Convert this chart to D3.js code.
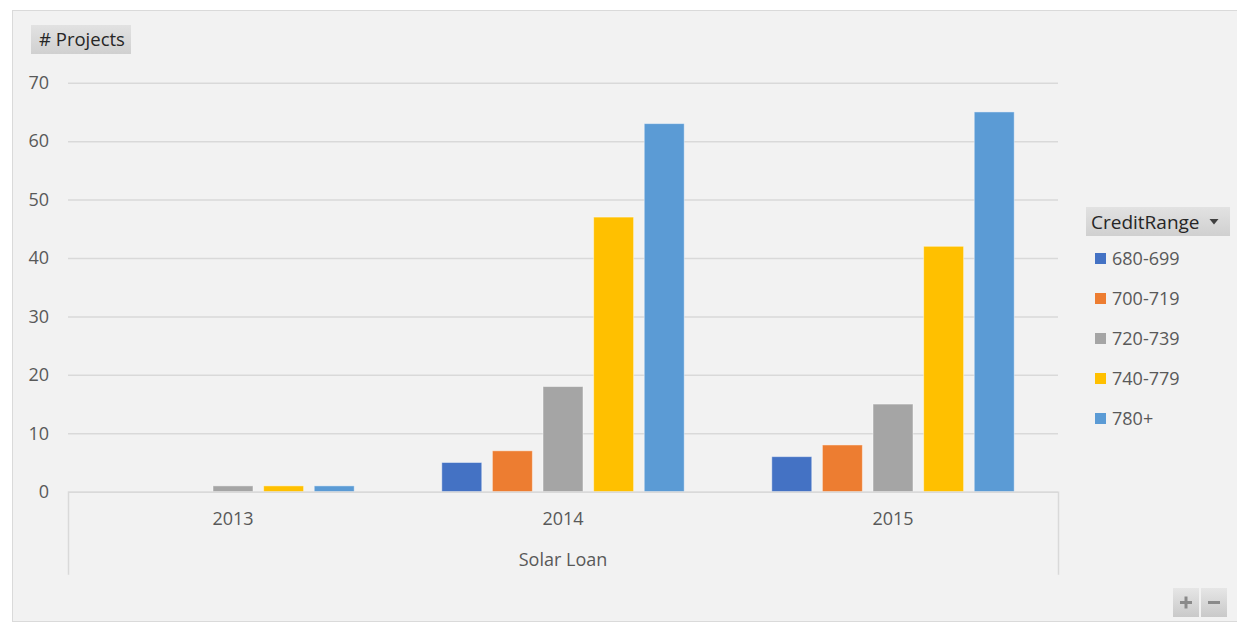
<!DOCTYPE html>
<html>
<head>
<meta charset="utf-8">
<script src="https://cdn.jsdelivr.net/npm/d3@7"></script>
<style>
  html, body { margin: 0; padding: 0; background: #ffffff; }
  svg { display: block; font-family: "Open Sans", "Noto Sans", sans-serif; }
</style>
</head>
<body>
<svg id="chart" width="1237" height="625"></svg>
<script>
// Years on the category axis
const categories = ["2013", "2014", "2015"];
// Credit score bands (series)
const creditRanges = ["680-699", "700-719", "720-739", "740-779", "780+"];
// Number of projects per year for each credit band
const range680_699 = [0, 5, 6];
const range700_719 = [0, 7, 8];
const range720_739 = [1, 18, 15];
const range740_779 = [1, 47, 42];
const range780plus = [1, 63, 65];
const yTicks = [0, 10, 20, 30, 40, 50, 60, 70];
const groupLabel = "Solar Loan";
const valueFieldLabel = "# Projects";
const legendTitle = "CreditRange";

const seriesValues = [range680_699, range700_719, range720_739, range740_779, range780plus];
const colors = ["#4472c4", "#ed7d31", "#a5a5a5", "#ffc000", "#5b9bd5"];

const svg = d3.select("#chart");
const W = 1237, H = 625;

// Gradients for the field buttons
const defs = svg.append("defs");
const g1 = defs.append("linearGradient").attr("id", "btn").attr("x1", 0).attr("y1", 0).attr("x2", 0).attr("y2", 1);
g1.append("stop").attr("offset", "0%").attr("stop-color", "#e2e2e2");
g1.append("stop").attr("offset", "100%").attr("stop-color", "#d0d0d0");
const g2 = defs.append("linearGradient").attr("id", "zoomBtn").attr("x1", 0).attr("y1", 0).attr("x2", 0).attr("y2", 1);
g2.append("stop").attr("offset", "0%").attr("stop-color", "#e6e6e6");
g2.append("stop").attr("offset", "100%").attr("stop-color", "#c9c9c9");

// Chart panel
svg.append("rect")
  .attr("x", 12.5).attr("y", 10.5).attr("width", W - 12).attr("height", H - 14)
  .attr("fill", "#f2f2f2").attr("stroke", "#dadada").attr("stroke-width", 1);

// Scales
const plotLeft = 68, plotRight = 1058, plotTop = 82.7, plotBottom = 491.7;
const x0 = d3.scaleBand().domain(categories).range([plotLeft, plotRight]).paddingInner(0).paddingOuter(0);
const x1 = d3.scaleBand().domain(creditRanges).range([0, x0.bandwidth()]).paddingInner(0.21).paddingOuter(0.865);
const y = d3.scaleLinear().domain([0, 70]).range([plotBottom, plotTop]);

// Value axis with gridlines
const yAxis = svg.append("g")
  .attr("transform", `translate(${plotLeft},0)`)
  .call(d3.axisLeft(y).tickValues(yTicks).tickSize(-(plotRight - plotLeft)).tickPadding(19));
yAxis.select(".domain").remove();
yAxis.selectAll(".tick line").attr("stroke", "#d9d9d9").attr("stroke-width", 1.5);
yAxis.selectAll(".tick text").attr("fill", "#595959").attr("font-size", 18).attr("font-family", "Open Sans, sans-serif");

// Bars
const barData = [];
categories.forEach((cat, ci) => {
  creditRanges.forEach((cr, si) => {
    barData.push({ cat, cr, si, value: seriesValues[si][ci] });
  });
});
svg.append("g").selectAll("rect")
  .data(barData.filter(d => d.value > 0))
  .join("rect")
  .attr("x", d => x0(d.cat) + x1(d.cr))
  .attr("y", d => y(d.value))
  .attr("width", x1.bandwidth())
  .attr("height", d => y(0) - y(d.value))
  .attr("fill", d => colors[d.si])
  .attr("stroke", "rgba(255,255,255,0.45)")
  .attr("stroke-width", 1);

// Category axis with outer ticks reaching down to enclose the group label
const xAxis = svg.append("g")
  .attr("transform", `translate(0,${plotBottom})`)
  .call(d3.axisBottom(x0).tickSizeInner(0).tickSizeOuter(83).tickPadding(21));
xAxis.select(".domain").attr("stroke", "#d9d9d9").attr("stroke-width", 1.5);
xAxis.selectAll(".tick text").attr("fill", "#595959").attr("font-size", 18).attr("font-family", "Open Sans, sans-serif");

svg.append("text")
  .attr("x", (plotLeft + plotRight) / 2).attr("y", 566)
  .attr("text-anchor", "middle").attr("fill", "#595959").attr("font-size", 18)
  .text(groupLabel);

// "# Projects" field button
svg.append("rect").attr("x", 31).attr("y", 25).attr("width", 100).attr("height", 29).attr("fill", "url(#btn)");
svg.append("text").attr("x", 39).attr("y", 39.5).attr("dy", "0.35em")
  .attr("fill", "#262626").attr("font-size", 18.5).text(valueFieldLabel);

// Legend with field button
svg.append("rect").attr("x", 1086).attr("y", 207).attr("width", 144).attr("height", 29).attr("fill", "url(#btn)");
svg.append("text").attr("x", 1091).attr("y", 222).attr("dy", "0.35em")
  .attr("fill", "#262626").attr("font-size", 19).text(legendTitle);
svg.append("path").attr("d", "M1209.5,219 L1218.5,219 L1214,224.5 Z").attr("fill", "#404040");

const legend = svg.append("g").selectAll("g")
  .data(creditRanges)
  .join("g")
  .attr("transform", (d, i) => `translate(1095,${258.5 + i * 40})`);
legend.append("rect").attr("x", 0).attr("y", -5.5).attr("width", 11).attr("height", 11)
  .attr("fill", (d, i) => colors[i]);
legend.append("text").attr("x", 17).attr("y", 0).attr("dy", "0.35em")
  .attr("fill", "#595959").attr("font-size", 18).text(d => d);

// Zoom buttons
const zoomBtns = svg.append("g");
[[1173, "+"], [1201, "-"]].forEach(([bx, sym]) => {
  zoomBtns.append("rect").attr("x", bx).attr("y", 588).attr("width", 26).attr("height", 29).attr("fill", "url(#zoomBtn)");
  const cx = bx + 13, cy = 602.5;
  zoomBtns.append("line").attr("x1", cx - 6).attr("x2", cx + 6).attr("y1", cy).attr("y2", cy)
    .attr("stroke", "#8a8a8a").attr("stroke-width", 3);
  if (sym === "+") {
    zoomBtns.append("line").attr("x1", cx).attr("x2", cx).attr("y1", cy - 6).attr("y2", cy + 6)
      .attr("stroke", "#8a8a8a").attr("stroke-width", 3);
  }
});
</script>
</body>
</html>
